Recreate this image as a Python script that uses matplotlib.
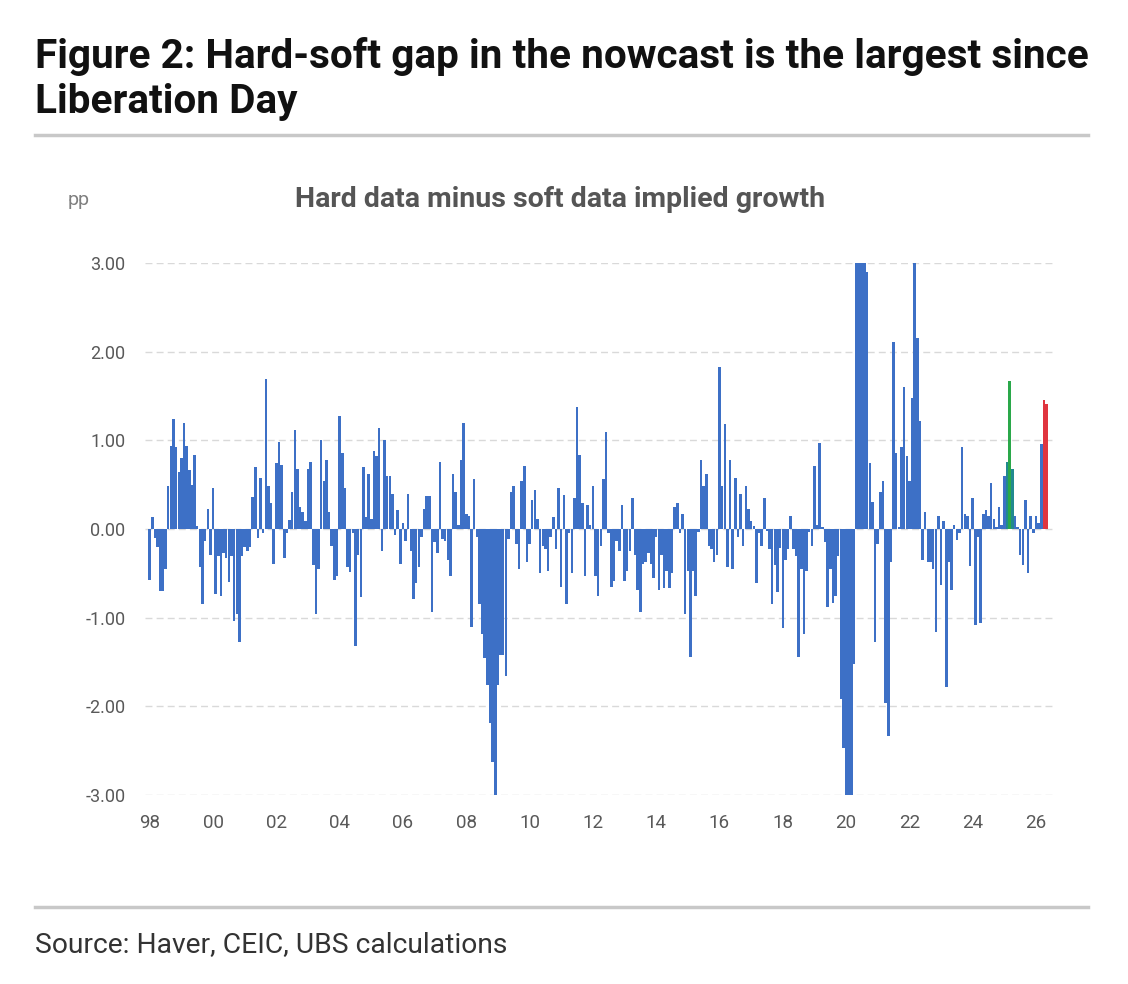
import matplotlib
matplotlib.use("Agg")
import matplotlib.pyplot as plt
import numpy as np

# monthly hard-minus-soft gap, Jan 1998 onwards (pp)
gap_9802 = [-0.57, 0.14, -0.10, -0.20, -0.70, -0.70, -0.45, 0.48, 0.94, 1.24, 0.92, 0.64,
            0.80, 1.19, 0.94, 0.66, 0.50, 0.83, 0.03, -0.43, -0.85, -0.13, 0.22, -0.29,
            0.46, -0.73, -0.31, -0.75, -0.27, -0.33, -0.60, -0.30, -1.04, -0.96, -1.28, -0.30,
            -0.20, -0.25, -0.20, 0.36, 0.70, -0.10, 0.58, -0.05, 1.69, 0.48, 0.29, -0.39,
            0.74]
gap_0206 = [0.98, 0.72, -0.33, -0.05, 0.10, 0.42, 1.12, 0.68, 0.25, 0.19, 0.09,
            0.68, 0.76, -0.41, -0.96, -0.45, 1.00, 0.54, 0.78, 0.19, -0.19, -0.57, -0.53,
            1.28, 0.86, 0.46, -0.43, -0.49, -0.05, -1.32, -0.29, -0.77, 0.70, 0.13, 0.62,
            0.11, 0.88, 0.82, 1.14, -0.25, 1.00, 0.60, 0.60, 0.40, -0.07, 0.21, -0.39,
            0.07, -0.13, 0.40]
gap_0610 = [-0.25, -0.79, -0.61, -0.43, -0.09, 0.23, 0.37, 0.37, -0.94, -0.15, -0.27, 0.76,
            -0.11, -0.13, -0.35, -0.53, 0.62, 0.42, 0.05, 0.78, 1.20, 0.17, 0.15, -1.10,
            0.56, -0.09, -0.85, -1.18, -1.46, -1.76, -2.19, -2.63, -3.00, -1.76, -1.42, -1.42,
            -1.66, -0.11, 0.42, 0.48, -0.17, -0.45, 0.54, 0.71, -0.37, -0.17, 0.33, 0.44,
            0.11, -0.50]
gap_1014 = [-0.19, -0.23, -0.47, -0.09, 0.13, -0.23, 0.46, -0.65, 0.38, -0.85, -0.05, -0.50,
            0.35, 1.38, 0.84, 0.29, -0.53, 0.27, 0.05, 0.48, -0.53, -0.75, -0.19, 0.56,
            1.09, -0.05, -0.65, -0.59, -0.13, -0.25, 0.27, -0.59, -0.47, -0.25, 0.35, -0.29,
            -0.69, -0.94, -0.39, -0.37, -0.27, -0.39, -0.55, -0.09, -0.69, -0.29, -0.67, -0.47,
            -0.67]
gap_1418 = [-0.50, 0.25, 0.29, -0.05, 0.17, -0.96, -0.47, -1.44, -0.47, -0.75, -0.03, 0.78,
            0.48, 0.62, -0.19, -0.23, -0.37, -0.29, 1.83, 0.48, 1.18, -0.43, 0.78, -0.45,
            0.58, -0.09, 0.40, -0.19, 0.48, 0.23, 0.09, 0.03, -0.61, -0.05, -0.19, 0.35,
            -0.02, -0.23, -0.85, -0.41, -0.71, -0.21, -1.12, -0.35, -0.23, 0.15, -0.23, -0.31,
            -1.44]
gap_1822 = [-0.45, -1.18, -0.47, -0.03, -0.19, 0.71, 0.05, 0.97, 0.02, -0.15, -0.88, -0.45,
            -0.83, -0.75, -0.31, -1.92, -2.47, -3.00, -3.00, -3.00, -1.52, 3.00, 3.00, 3.00,
            3.00, 2.90, 0.74, 0.30, -1.28, -0.17, 0.42, 0.54, -1.96, -2.33, -0.37, 2.11,
            0.86, 0.02, 0.92, 1.60, 0.82, 0.54, 1.48, 3.00, 2.15, 1.22, -0.35, 0.19,
            -0.37]
gap_2226 = [-0.37, -0.45, -1.16, 0.15, -0.63, 0.09, -1.78, -0.37, -0.69, 0.05, -0.12, -0.05,
            0.92, 0.17, 0.15, -0.42, 0.35, -1.08, -0.09, -1.06, 0.17, 0.21, 0.15, 0.52,
            0.11, 0.02, 0.25, 0.05, 0.60, 0.76, 1.67, 0.68, 0.15, 0.02, -0.29, -0.41,
            0.33, -0.50, 0.15, -0.05, 0.15, 0.07, 0.96, 1.45, 1.41]

gap = np.array(gap_9802 + gap_0206 + gap_0610 + gap_1014 + gap_1418 + gap_1822 + gap_2226)
months = 1998 + np.arange(len(gap)) / 12.0

# highlighted months (index into the series)
liberation_idx = 326
teal_idx = [325, 327]
latest_idx = [len(gap) - 2, len(gap) - 1]

yticks = [3, 2, 1, 0, -1, -2, -3]
xtick_years = list(range(1998, 2027, 2))
xtick_labels = [str(y)[2:] for y in xtick_years]

W, H = 1128, 984
fig = plt.figure(figsize=(W / 100, H / 100), dpi=100)
fig.patch.set_facecolor("white")

def fx(x):
    return x / W

def fy(y):
    return 1 - y / H

font = ["Roboto", "DejaVu Sans"]

ax = fig.add_axes([fx(145), fy(795), fx(1055) - fx(145), fy(263) - fy(795)])

colors = ["#3d70c6"] * len(gap)
for i in teal_idx:
    colors[i] = "#22898f"
colors[liberation_idx] = "#2aa84a"
for i in latest_idx:
    colors[i] = "#e0353f"

for t in yticks:
    ax.axhline(t, color="#d9d9d9", lw=1.0, ls=(0, (5, 3)), zorder=0)

ax.bar(months, gap, width=0.95 / 12, color=colors, linewidth=0, align="center", zorder=2)

ax.set_xlim(1997.85, 2026.6)
ax.set_ylim(-3, 3)
ax.set_yticks(yticks)
ax.set_yticklabels(["%.2f" % t for t in yticks], family=font, fontsize=13, color="#595959")
ax.set_xticks(xtick_years)
ax.set_xticklabels(xtick_labels, family=font, fontsize=13.5, color="#595959")
ax.tick_params(axis="both", length=0)
ax.tick_params(axis="y", pad=14)
ax.tick_params(axis="x", pad=14)
for s in ax.spines.values():
    s.set_visible(False)

# titles and furniture
fig.text(fx(35), fy(68), "Figure 2: Hard-soft gap in the nowcast is the largest since",
         family=font, fontsize=29.2, fontweight="bold", color="#111111", va="baseline")
fig.text(fx(35), fy(113), "Liberation Day",
         family=font, fontsize=29.2, fontweight="bold", color="#111111", va="baseline")
fig.add_artist(plt.Line2D([fx(35), fx(1088)], [fy(135), fy(135)], color="#c8c8c8", lw=2.5))

fig.text(fx(68), fy(205), "pp", family=font, fontsize=14, color="#7f7f7f", va="baseline")
fig.text(fx(560), fy(207), "Hard data minus soft data implied growth",
         family=font, fontsize=20.5, fontweight="bold", color="#555555", ha="center", va="baseline")

fig.add_artist(plt.Line2D([fx(35), fx(1088)], [fy(907), fy(907)], color="#c8c8c8", lw=2.5))
fig.text(fx(35), fy(952), "Source: Haver, CEIC, UBS calculations",
         family=font, fontsize=20.3, color="#333333", va="baseline")

fig.savefig("out.png", dpi=100)
